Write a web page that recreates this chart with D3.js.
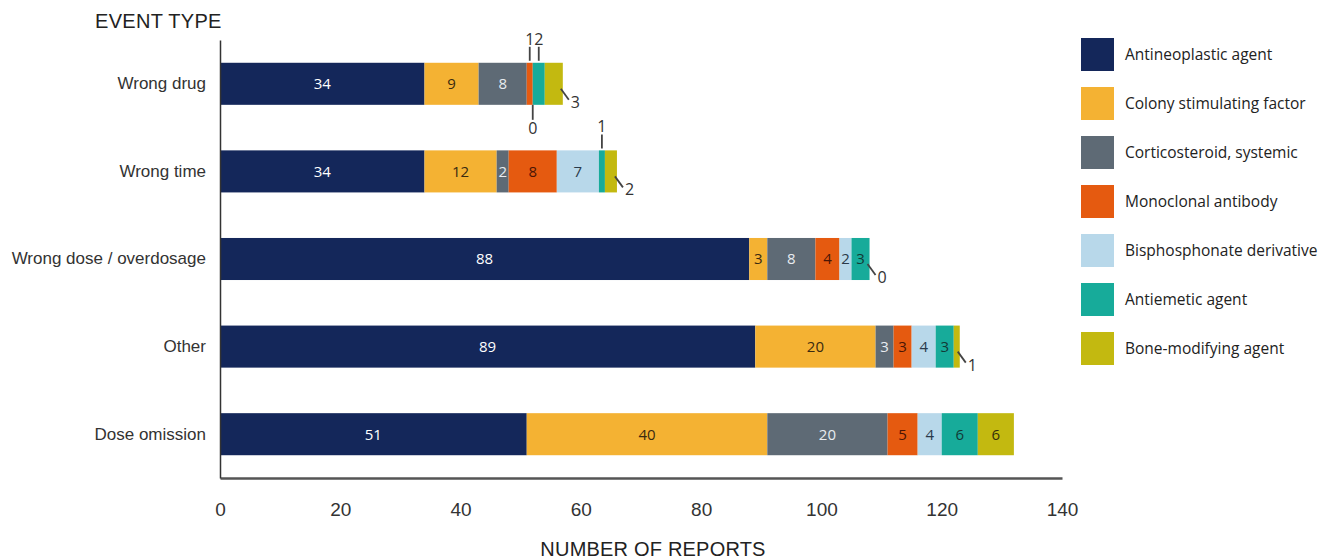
<!DOCTYPE html>
<html>
<head>
<meta charset="utf-8">
<script src="https://cdn.jsdelivr.net/npm/d3@7/dist/d3.min.js"></script>
<style>
  body { margin: 0; background: #fff; }
  svg { display: block; }
</style>
</head>
<body>
<svg id="chart" width="1328" height="559"></svg>
<script>
// ---- data ----
const categories = ["Wrong drug", "Wrong time", "Wrong dose / overdosage", "Other", "Dose omission"];
const seriesNames = ["Antineoplastic agent", "Colony stimulating factor", "Corticosteroid, systemic",
  "Monoclonal antibody", "Bisphosphonate derivative", "Antiemetic agent", "Bone-modifying agent"];
const antineoplastic = [34, 34, 88, 89, 51];
const colonyStimulating = [9, 12, 3, 20, 40];
const corticosteroid = [8, 2, 8, 3, 20];
const monoclonal = [1, 8, 4, 3, 5];
const bisphosphonate = [0, 7, 2, 4, 4];
const antiemetic = [2, 1, 3, 3, 6];
const boneModifying = [3, 2, 0, 1, 6];
const xTicks = [0, 20, 40, 60, 80, 100, 120, 140];
// segments whose label is drawn outside with a leader line
const callouts = [
  { cat: "Wrong drug", series: "Monoclonal antibody", dir: "up" },
  { cat: "Wrong drug", series: "Antiemetic agent", dir: "up" },
  { cat: "Wrong drug", series: "Bisphosphonate derivative", dir: "down" },
  { cat: "Wrong drug", series: "Bone-modifying agent", dir: "diag" },
  { cat: "Wrong time", series: "Antiemetic agent", dir: "up" },
  { cat: "Wrong time", series: "Bone-modifying agent", dir: "diag" },
  { cat: "Wrong dose / overdosage", series: "Bone-modifying agent", dir: "diag" },
  { cat: "Other", series: "Bone-modifying agent", dir: "diag" }
];

const seriesValues = [antineoplastic, colonyStimulating, corticosteroid, monoclonal, bisphosphonate, antiemetic, boneModifying];
const colors = ["#14275a", "#f4b233", "#5e6a75", "#e55a10", "#b8d8ea", "#17ab9a", "#c3b910"];
const labelColors = ["#ffffff", "#3a2a10", "#e8ecf0", "#4a1505", "#2a3a4a", "#123a36", "#34300a"];

const rows = categories.map((c, i) => {
  const r = { cat: c };
  seriesNames.forEach((s, j) => r[s] = seriesValues[j][i]);
  return r;
});
const stacked = d3.stack().keys(seriesNames)(rows);

const svg = d3.select("#chart");
const x = d3.scaleLinear().domain([0, 140]).range([220, 1062]);
const y = d3.scaleBand().domain(categories).range([40, 478]).paddingInner(0.52).paddingOuter(0.26);
const color = d3.scaleOrdinal().domain(seriesNames).range(colors);

// bars
const layers = svg.append("g").selectAll("g").data(stacked).join("g")
  .attr("fill", d => color(d.key));
layers.selectAll("rect").data(d => d).join("rect")
  .attr("x", d => x(d[0]))
  .attr("y", d => y(d.data.cat))
  .attr("width", d => x(d[1]) - x(d[0]))
  .attr("height", y.bandwidth());

// segment labels
const isCallout = (cat, s) => callouts.find(c => c.cat === cat && c.series === s);
const labelFont = "'Open Sans', 'Noto Sans', sans-serif";
stacked.forEach((layer, j) => {
  layer.forEach(d => {
    const cat = d.data.cat;
    const v = d[1] - d[0];
    const co = isCallout(cat, layer.key);
    const x0 = x(d[0]), x1 = x(d[1]);
    const yt = y(cat), yb = yt + y.bandwidth(), yc = yt + y.bandwidth() / 2;
    if (!co) {
      if (v <= 0) return;
      svg.append("text")
        .attr("x", (x0 + x1) / 2).attr("y", yc).attr("dy", "0.36em")
        .attr("text-anchor", "middle")
        .attr("font-family", labelFont).attr("font-size", 15)
        .attr("fill", labelColors[j])
        .text(v);
    } else {
      const g = svg.append("g");
      const xm = (x0 + x1) / 2;
      const txt = g.append("text").attr("font-family", labelFont).attr("font-size", 16)
        .attr("fill", "#333").text(v);
      if (co.dir === "up") {
        g.append("line").attr("x1", xm).attr("x2", xm).attr("y1", yt - 2).attr("y2", yt - 16)
          .attr("stroke", "#444").attr("stroke-width", 1.8);
        txt.attr("x", xm).attr("y", yt - 18).attr("text-anchor", "middle");
      } else if (co.dir === "down") {
        g.append("line").attr("x1", xm).attr("x2", xm).attr("y1", yb).attr("y2", yb + 15)
          .attr("stroke", "#444").attr("stroke-width", 1.8);
        txt.attr("x", xm).attr("y", yb + 29).attr("text-anchor", "middle");
      } else {
        g.append("line").attr("x1", x1 - 2).attr("y1", yc + 5).attr("x2", x1 + 6).attr("y2", yc + 16)
          .attr("stroke", "#444").attr("stroke-width", 1.8);
        txt.attr("x", x1 + 8).attr("y", yc + 24).attr("text-anchor", "start");
      }
    }
  });
});

// axes
const xAxis = svg.append("g").attr("transform", "translate(0,478)")
  .call(d3.axisBottom(x).tickValues(xTicks).tickSize(0).tickPadding(25));
xAxis.select(".domain").attr("stroke", "#555").attr("stroke-width", 2.5);
xAxis.selectAll("text").attr("font-family", "'Liberation Sans', Arial, sans-serif")
  .attr("font-size", 19).attr("fill", "#333");

const yAxis = svg.append("g").attr("transform", "translate(220,0)")
  .call(d3.axisLeft(y).tickSize(0).tickPadding(14));
yAxis.select(".domain").attr("stroke", "#333").attr("stroke-width", 1.5);
yAxis.selectAll("text").attr("font-family", "'Liberation Sans', Arial, sans-serif")
  .attr("font-size", 17).attr("fill", "#333");

// titles
svg.append("text").attr("x", 95).attr("y", 28)
  .attr("font-family", "'Liberation Sans', Arial, sans-serif").attr("font-size", 20)
  .attr("letter-spacing", 0.3).attr("fill", "#222").text("EVENT TYPE");
svg.append("text").attr("x", 653).attr("y", 556).attr("text-anchor", "middle")
  .attr("font-family", "'Liberation Sans', Arial, sans-serif").attr("font-size", 20)
  .attr("letter-spacing", 0.2).attr("fill", "#222").text("NUMBER OF REPORTS");

// legend
const leg = svg.append("g").selectAll("g").data(seriesNames).join("g")
  .attr("transform", (d, i) => `translate(1081,${38 + i * 49})`);
leg.append("rect").attr("width", 33).attr("height", 33).attr("fill", d => color(d));
leg.append("text").attr("x", 44).attr("y", 17).attr("dy", "0.35em")
  .attr("font-family", labelFont).attr("font-size", 15.5).attr("fill", "#222")
  .text(d => d);
</script>
</body>
</html>
